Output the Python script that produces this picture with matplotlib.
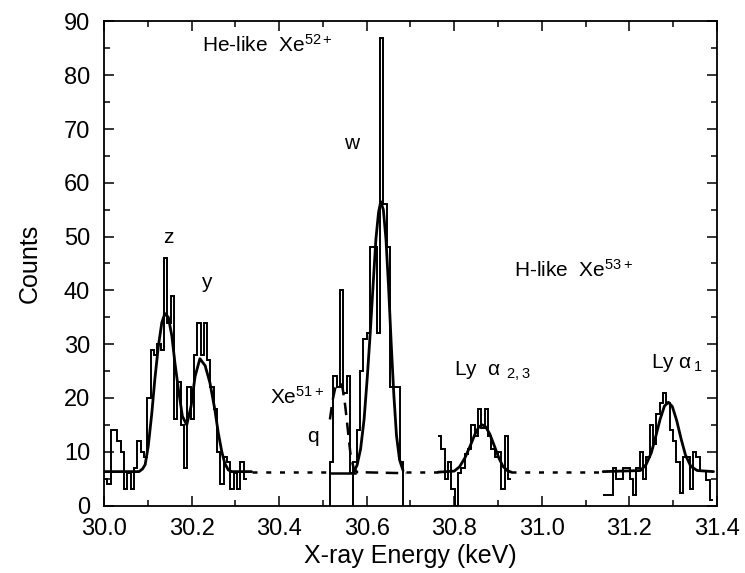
import numpy as np
import matplotlib
matplotlib.use('Agg')
import matplotlib.pyplot as plt
from matplotlib.ticker import MultipleLocator

plt.rcParams['font.family'] = ['Liberation Sans', 'DejaVu Sans']
plt.rcParams['mathtext.fontset'] = 'custom'
plt.rcParams['mathtext.rm'] = 'Liberation Sans'
plt.rcParams['mathtext.it'] = 'Liberation Sans'
plt.rcParams['mathtext.bf'] = 'Liberation Sans:bold'

BIN = 0.0076

# ---- histogram data (counts per bin) ----
he_start = 30.000
he_counts = [5, 4, 14, 14, 12, 10, 3, 6, 3, 7, 12, 10, 9, 20, 29, 28, 30, 29, 46, 34,
             39, 16, 23, 15, 7, 22, 16, 28, 34, 28, 34, 27, 22, 18, 10, 4, 9, 8, 3, 6,
             3, 8, 5]

q_start = 30.5163
q_counts = [8, 24, 22, 40, 21, 24, 6]

w_start = 30.5695
w_counts = [8, 14, 25, 31, 32, 48, 48, 32, 87, 56, 48, 22, 22, 22, 8]

ly23_start = 30.763
ly23_counts = [13, 10.5, 5, 8, 3, 0, 6, 7, 9.5, 10.5, 15, 13, 18, 14.5, 18, 13, 10.5,
               9, 10, 3, 13, 5]

ly1_start = 31.140
ly1_counts = [2, 2, 2, 7, 5, 5, 7, 7, 5, 2, 7, 10, 5, 9, 15, 11.5, 17, 19, 21, 19, 14,
              12, 8, 2.3, 9, 9, 3, 10, 9, 6.5, 6.5, 4.7, 1]

# ---- fitted curves ----
fit_zy_E = [30.000, 30.080, 30.088, 30.094, 30.101, 30.109, 30.116, 30.124, 30.132,
            30.139, 30.147, 30.155, 30.162, 30.170, 30.179, 30.189, 30.199, 30.208,
            30.219, 30.231, 30.242, 30.253, 30.261, 30.269, 30.276, 30.284, 30.292,
            30.337]
fit_zy_C = [6.3, 6.3, 6.8, 7.6, 11.0, 17.0, 23.4, 29.5, 34.0, 35.7, 35.0, 31.5, 26.5,
            21.6, 16.6, 15.0, 18.5, 24.0, 27.3, 26.0, 22.8, 17.9, 13.5, 10.0, 7.8, 6.6,
            6.3, 6.3]

fit_q_E = [30.516, 30.522, 30.528, 30.534, 30.539, 30.545, 30.551, 30.557, 30.563,
           30.570, 30.578, 30.690]
fit_q_C = [16.0, 19.5, 21.8, 22.7, 22.8, 21.8, 18.5, 14.0, 9.5, 7.0, 6.2, 6.0]

base_q_E = [30.516, 30.573]
base_q_C = [6.0, 6.0]

fit_w_E = [30.569, 30.578, 30.586, 30.594, 30.601, 30.608, 30.615, 30.621, 30.627,
           30.632, 30.638, 30.644, 30.650, 30.656, 30.662, 30.668, 30.675, 30.683]
fit_w_C = [6.0, 7.5, 10.5, 16.0, 23.5, 32.0, 41.5, 49.5, 54.5, 56.5, 55.0, 49.5, 40.5,
           30.0, 20.5, 13.0, 8.5, 6.5]

fit_ly23_E = [30.763, 30.800, 30.812, 30.824, 30.836, 30.847, 30.856, 30.864, 30.872,
              30.881, 30.891, 30.901, 30.911, 30.921, 30.930]
fit_ly23_C = [6.2, 6.4, 7.2, 8.8, 11.0, 13.2, 14.6, 15.0, 14.6, 13.3, 11.2, 9.0, 7.3,
              6.5, 6.2]

fit_ly1_E = [31.140, 31.225, 31.238, 31.250, 31.260, 31.270, 31.280, 31.289, 31.298,
             31.308, 31.318, 31.328, 31.340, 31.355, 31.392]
fit_ly1_C = [6.3, 6.5, 7.6, 9.8, 12.8, 16.0, 18.5, 19.2, 18.4, 15.8, 12.4, 9.4, 7.3,
             6.5, 6.3]

dotted_segments = [(30.337, 30.516), (30.690, 30.763), (30.930, 31.140)]
baseline_level = 6.2

x_ticks = [30.0, 30.2, 30.4, 30.6, 30.8, 31.0, 31.2, 31.4]
x_ticklabels = ['30.0', '30.2', '30.4', '30.6', '30.8', '31.0', '31.2', '31.4']
y_ticks = [0, 10, 20, 30, 40, 50, 60, 70, 80, 90]

fig = plt.figure(figsize=(7.45, 5.73), dpi=100)
ax = fig.add_axes([0.1396, 0.1178, 0.8228, 0.8447])


def edges(start, counts):
    return start + BIN * np.arange(len(counts) + 1)


hist_kw = dict(color='black', linewidth=1.4, fill=False)
ax.stairs(he_counts, edges(he_start, he_counts), baseline=None, **hist_kw)
ax.stairs(q_counts, edges(q_start, q_counts), baseline=0, **hist_kw)
ax.stairs(w_counts, edges(w_start, w_counts), baseline=0, **hist_kw)
ax.stairs(ly23_counts, edges(ly23_start, ly23_counts), baseline=None, **hist_kw)
ax.stairs(ly1_counts, edges(ly1_start, ly1_counts), baseline=None, **hist_kw)

fit_kw = dict(color='black', linewidth=2.0, solid_capstyle='round')
ax.plot(fit_zy_E, fit_zy_C, **fit_kw)
ax.plot(fit_q_E, fit_q_C, color='black', linewidth=1.8, dashes=(5, 3))
ax.plot(base_q_E, base_q_C, color='black', linewidth=1.8)
ax.plot(fit_w_E, fit_w_C, **fit_kw)
ax.plot(fit_ly23_E, fit_ly23_C, **fit_kw)
ax.plot(fit_ly1_E, fit_ly1_C, **fit_kw)
for a, b in dotted_segments:
    ax.plot([a, b], [baseline_level, baseline_level], color='black', linewidth=1.8,
            dashes=(2, 3.5))

ax.set_xlim(30.0, 31.4)
ax.set_ylim(0, 90)
ax.set_xticks(x_ticks)
ax.set_xticklabels(x_ticklabels)
ax.set_yticks(y_ticks)
ax.xaxis.set_minor_locator(MultipleLocator(0.1))
ax.yaxis.set_minor_locator(MultipleLocator(5))
ax.tick_params(which='both', direction='in', top=True, right=True, width=1.1,
               labelsize=17, colors='black')
ax.tick_params(which='major', length=7)
ax.tick_params(which='minor', length=4)
ax.tick_params(axis='x', which='major', pad=9)
ax.tick_params(axis='y', which='major', pad=10)
for s in ax.spines.values():
    s.set_linewidth(1.3)

ax.set_xlabel('X-ray Energy (keV)', fontsize=18, labelpad=3)
ax.set_ylabel('Counts', fontsize=18, labelpad=16)

tfs = 15
ax.text(30.224, 85.6, r'He-like  Xe$^{52+}$', fontsize=tfs, va='center', ha='left')
ax.text(30.566, 67.3, 'w', fontsize=tfs, va='center', ha='center')
ax.text(30.146, 49.9, 'z', fontsize=tfs, va='center', ha='center')
ax.text(30.233, 41.4, 'y', fontsize=tfs, va='center', ha='center')
ax.text(30.936, 43.8, r'H-like  Xe$^{53+}$', fontsize=tfs, va='center', ha='left')
ax.text(30.379, 20.2, r'Xe$^{51+}$', fontsize=tfs, va='center', ha='left')
ax.text(30.478, 12.8, 'q', fontsize=tfs, va='center', ha='center')
ax.text(30.800, 25.0, r'Ly  $\mathregular{\alpha}_{\;\;2,3}$', fontsize=tfs,
        va='center', ha='left')
ax.text(31.250, 26.5, r'Ly $\mathregular{\alpha}_{\,1}$', fontsize=tfs,
        va='center', ha='left')

fig.savefig('out.png', dpi=100)
